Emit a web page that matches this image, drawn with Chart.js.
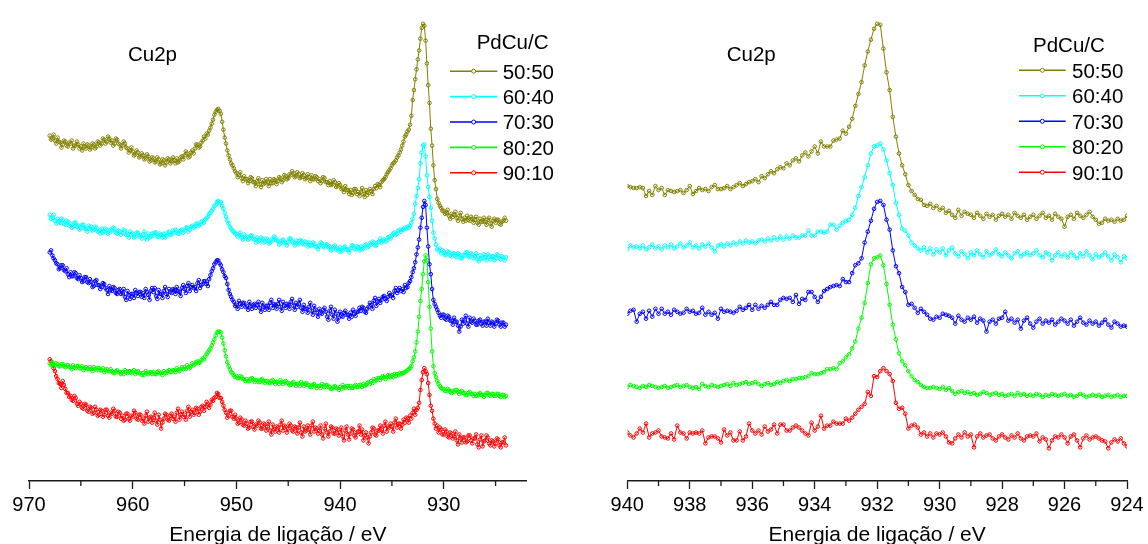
<!DOCTYPE html>
<html>
<head>
<meta charset="utf-8">
<script src="https://cdn.jsdelivr.net/npm/chart.js@4.4.0/dist/chart.umd.min.js"></script>
<style>
  html, body { margin: 0; padding: 0; background: #fff; }
  #wrap { position: relative; width: 1148px; height: 544px; overflow: hidden; }
  canvas { position: absolute; top: 0; }
  #wide { left: 0; }
  #narrow { left: 574px; }
</style>
</head>
<body>
<div id="wrap">
  <canvas id="wide" width="574" height="544"></canvas>
  <canvas id="narrow" width="574" height="544"></canvas>
</div>
<script>
// Cu 2p XPS spectra of the PdCu/C catalysts (intensity in a.u., curves stacked)
const sampleNames  = ['50:50', '60:40', '70:30', '80:20', '90:10'];
const sampleColors = ['#808000', '#00ffff', '#0000ff', '#00ff00', '#ff0000'];

// Wide window: 968 -> 924 eV, 0.125 eV sampling (8 points per eV per row)
const wideStart = 968, wideStep = -0.125;
const wideTicks = [970, 960, 950, 940, 930];
const wideMinorTicks = [965, 955, 945, 935, 925];

const wide5050 = [
  348,344,345,349,343,340,346,342, 341,336,339,343,342,338,337,341,
  340,343,335,338,338,342,339,335, 337,333,340,337,335,339,338,334,
  336,340,339,335,337,342,341,338, 340,345,344,340,342,347,345,341,
  343,338,340,345,344,340,339,335, 338,342,340,336,335,331,333,336,
  332,328,329,333,331,326,327,330, 328,324,325,329,327,322,323,326,
  325,321,322,326,324,319,320,324, 323,318,321,325,324,320,322,326,
  323,320,325,321,322,326,327,324, 328,332,330,326,327,331,333,330,
  335,339,339,336,337,341,343,347, 345,350,349,353,356,360,364,369,
  372,374,375,373,370,362,354,346, 340,333,328,324,320,318,315,312,
  310,306,308,311,305,302,307,304, 304,300,302,306,305,301,301,297,
  302,305,299,296,303,299,300,304, 301,297,304,300,300,304,303,299,
  302,306,305,301,303,308,307,304, 305,309,308,312,310,306,307,311,
  309,305,306,310,308,304,305,309, 306,302,308,304,304,307,306,302,
  304,300,302,306,305,301,301,298, 302,298,299,303,301,296,297,300,
  298,294,295,291,297,293,293,289, 293,288,290,294,294,289,291,287,
  291,295,289,286,293,288,290,294, 292,289,294,297,295,299,298,296,
  301,303,304,306,309,311,313,315, 318,320,321,323,326,328,331,334,
  338,342,347,349,352,354,359,368, 384,394,405,415,425,434,446,457,
  461,459,444,421,399,381,355,338, 318,303,294,284,280,277,275,272,
  272,269,270,273,267,264,269,266, 268,271,265,262,267,270,264,261,
  265,262,267,263,262,266,264,260, 263,266,260,258,264,261,261,265,
  261,258,263,265,259,256,262,264, 260,263,263,259,258,261,262,265,
  262
];
const wide6040 = [
  268,264,265,268,262,259,264,261, 260,264,263,259,258,262,261,257,
  259,255,256,260,260,256,257,253, 255,258,258,254,254,251,257,254,
  256,252,253,256,255,251,252,249, 254,250,251,254,253,249,250,253,
  252,255,254,250,249,252,251,248, 250,253,252,248,248,245,251,248,
  249,245,246,250,250,246,247,244, 248,251,245,243,249,245,246,249,
  247,250,250,246,246,249,248,245, 249,245,247,250,251,248,248,252,
  250,253,252,249,249,252,253,250, 252,255,255,251,253,256,257,255,
  256,259,259,257,258,261,262,260, 263,265,266,269,270,272,274,277,
  278,281,282,280,281,277,274,270, 266,262,259,256,254,252,251,249,
  249,246,247,250,245,243,248,245, 246,243,244,247,247,244,243,240,
  245,241,242,245,244,240,241,244, 243,239,240,243,242,246,245,242,
  242,238,239,242,243,240,240,237, 241,244,244,241,240,237,242,239,
  239,242,242,239,238,241,240,236, 240,237,237,240,239,236,236,233,
  237,240,239,236,235,238,238,235, 236,232,233,236,237,233,234,231,
  235,231,232,235,236,233,233,230, 234,237,237,234,233,236,235,232,
  236,233,234,237,238,235,236,239, 238,241,240,237,237,240,241,244,
  240,242,243,241,242,245,246,244, 247,249,250,248,249,252,253,251,
  253,253,255,254,256,255,257,260, 264,269,279,287,295,304,320,331,
  338,339,327,308,296,286,275,262, 250,244,238,233,232,234,229,232,
  231,227,228,231,230,227,226,229, 229,226,225,229,228,224,224,227,
  227,230,230,226,225,229,228,224, 226,229,223,221,227,224,224,228,
  225,222,228,226,223,226,226,222, 224,228,227,224,223,226,225,222,
  225
];
const wide7030 = [
  230,232,227,224,222,219,218,213, 214,217,217,212,211,214,208,205,
  210,206,206,210,209,204,203,207, 204,200,201,205,205,200,199,203,
  200,195,196,201,202,197,197,193, 195,199,198,194,192,188,196,192,
  191,195,194,189,188,192,193,188, 189,193,185,182,191,187,183,188,
  188,184,192,189,186,190,190,185, 189,184,193,190,187,182,191,194,
  190,194,186,183,192,188,188,184, 191,195,188,185,193,190,189,193,
  192,188,195,191,190,186,194,197, 193,189,196,199,191,195,197,194,
  195,191,199,202,194,197,198,201, 201,198,196,203,207,211,214,218,
  220,222,222,219,217,213,210,206, 204,198,192,188,185,182,180,176,
  177,173,181,178,175,179,179,175, 176,172,180,176,173,177,178,174,
  177,180,174,170,179,175,172,176, 176,172,179,182,174,178,177,173,
  178,182,175,171,180,176,174,178, 177,173,180,183,176,172,179,175,
  178,182,174,170,177,173,173,169, 175,179,171,167,176,172,169,165,
  173,169,168,172,174,170,165,162, 171,175,167,163,172,168,160,164,
  170,166,165,169,171,167,167,163, 169,165,172,168,166,170,170,174,
  171,175,174,170,169,173,175,179, 177,173,181,184,176,180,183,179,
  182,185,186,183,181,185,189,186, 187,184,191,194,189,192,194,191,
  193,190,197,194,195,199,201,205, 210,214,220,228,235,243,255,265,
  276,282,278,255,236,218,208,193, 182,178,175,172,169,166,164,167,
  167,163,162,166,165,161,161,157, 164,160,160,156,150,155,162,158,
  162,166,158,155,164,160,159,163, 161,157,157,161,162,158,156,160,
  160,156,163,159,156,160,159,155, 158,162,161,157,155,159,159,155,
  157
];
const wide8020 = [
  118,116,119,117,116,118,117,115, 115,117,117,115,114,116,116,114,
  114,112,116,114,113,115,115,113, 113,115,111,113,114,112,112,114,
  112,110,114,112,111,113,113,111, 111,113,109,111,112,110,110,112,
  110,108,108,110,111,109,109,107, 109,107,111,109,108,110,110,108,
  109,111,107,109,110,108,108,106, 108,106,110,108,107,109,109,107,
  109,107,107,109,110,108,108,106, 110,108,108,110,111,109,109,111,
  111,109,113,111,110,112,114,112, 114,112,116,114,113,115,118,116,
  117,119,120,118,119,121,123,122, 125,127,129,131,133,136,139,142,
  146,149,150,150,149,144,138,131, 125,119,115,112,109,108,106,104,
  105,103,103,105,104,102,102,100, 102,100,100,102,103,101,99,101,
  101,99,99,101,102,100,98,100, 100,98,98,100,101,99,97,99,
  99,97,101,99,97,99,100,98, 98,96,96,98,99,97,95,97,
  97,95,99,97,95,97,98,96, 96,94,94,96,97,95,93,95,
  95,93,97,95,94,96,96,94, 94,92,92,94,95,93,93,91,
  94,92,96,94,93,95,95,93, 95,93,93,95,96,94,94,96,
  96,94,97,95,96,98,99,97, 100,98,102,100,101,103,103,101,
  103,105,104,102,104,106,105,104, 106,104,107,105,107,106,108,107,
  108,108,109,110,111,112,113,115, 120,124,130,139,150,165,181,193,
  208,221,227,222,200,175,153,130, 115,108,104,100,97,95,93,92,
  92,90,90,92,91,89,88,90, 89,91,91,89,87,89,90,88,
  88,86,86,88,89,87,87,85, 87,85,85,87,88,86,86,84,
  86,88,88,86,85,87,87,85, 85,87,87,85,84,86,86,84,
  85
];
const wide9010 = [
  122,120,117,113,110,105,102,98, 97,93,100,96,92,88,88,84,
  85,81,80,85,83,77,75,79, 77,73,72,77,76,70,69,74,
  73,67,68,74,71,65,66,71, 70,64,66,71,71,65,63,68,
  67,72,70,64,64,69,68,62, 65,60,61,67,67,62,60,65,
  64,70,68,62,61,66,66,60, 62,57,65,69,59,63,64,58,
  63,68,60,56,66,61,52,58, 62,67,66,61,60,65,67,62,
  64,59,68,72,61,66,69,64, 66,61,70,74,64,69,71,66,
  68,73,72,66,69,74,75,70, 74,79,77,73,76,81,80,83,
  84,88,87,83,83,79,75,71, 68,63,65,70,70,64,62,66,
  62,57,58,63,61,56,55,60, 57,52,53,59,59,54,51,56,
  55,60,58,52,52,57,56,50, 54,59,50,46,56,51,49,54,
  53,48,56,60,50,55,54,48, 52,57,55,50,49,54,53,47,
  53,58,48,44,54,49,50,55, 51,46,55,59,49,53,52,47,
  50,55,46,42,52,57,48,44, 49,54,53,47,47,52,51,45,
  48,53,44,40,50,54,46,41, 47,52,51,45,43,48,49,55,
  46,51,40,45,48,43,37,44, 48,53,52,46,45,50,50,55,
  51,47,55,59,49,54,53,57, 54,49,58,62,53,57,57,52,
  56,61,58,63,62,58,65,62, 68,72,66,71,73,78,91,101,
  109,113,110,107,98,86,75,70, 62,57,52,55,48,53,51,46,
  46,51,49,44,43,48,47,42, 44,49,40,36,46,42,38,43,
  43,38,39,45,45,40,37,42, 42,46,36,33,41,45,34,39,
  40,45,43,37,35,40,39,34, 37,42,41,35,33,38,38,43,
  35
];

// Narrow window: 940 -> 924 eV, 0.1 eV sampling (10 points per eV per row)
const narrowStart = 940, narrowStep = -0.1;
const narrowTicks = [940, 938, 936, 934, 932, 930, 928, 926, 924];
const narrowMinorTicks = [939, 937, 935, 933, 931, 929, 927, 925];

const narrow5050 = [
  297,296,295,295,296,295,287,292,288,297, 293,295,288,293,292,291,292,293,290,293,
  297,289,292,295,293,294,292,296,298,294, 294,295,297,294,296,298,300,297,299,301,
  302,304,301,307,305,309,312,310,314,316, 315,320,318,323,325,322,328,331,327,332,
  337,330,342,337,337,337,343,344,345,353, 350,357,365,378,390,402,419,433,445,456,
  461,460,436,412,394,367,347,330,318,309, 298,292,288,284,283,278,277,279,275,277,
  273,275,270,272,268,265,273,267,271,269, 268,265,270,267,264,269,266,268,263,267,
  269,266,268,264,270,267,265,268,263,266, 268,264,267,270,265,267,263,269,266,264,
  256,266,268,264,270,267,265,268,271,266, 263,259,260,264,262,263,261,264,262,263,
  267
];
const narrow6040 = [
  233,237,235,236,234,237,233,235,238,234, 236,233,237,235,238,234,236,239,235,237,
  240,235,237,234,238,236,239,235,231,237, 238,236,239,237,240,238,241,239,242,240,
  241,239,242,243,241,244,242,245,243,246, 243,246,244,247,245,245,247,247,252,247,
  247,251,251,250,251,258,258,253,257,260, 262,263,268,275,287,296,306,318,330,337,
  338,340,334,323,310,298,280,268,254,252, 247,240,237,234,232,235,230,234,228,233,
  230,234,227,232,235,229,226,231,228,224, 230,227,232,228,225,231,227,229,233,228,
  226,230,227,224,229,231,226,228,230,227, 229,232,227,225,230,228,222,227,230,226,
  228,225,230,227,224,229,226,231,227,223, 228,225,227,230,226,222,228,225,220,226,
  224
];
const narrow7030 = [
  168,171,172,160,168,170,163,171,165,173, 168,173,168,170,167,172,170,168,169,173,
  170,171,168,169,174,167,170,167,169,163, 173,170,171,170,169,171,175,172,174,177,
  172,177,173,176,174,177,180,177,177,182, 184,183,184,180,187,178,183,182,190,190,
  185,180,185,191,193,195,196,197,196,203, 200,200,209,217,219,224,240,251,262,274,
  281,282,278,263,253,232,216,209,195,190, 177,178,174,169,173,170,167,163,162,165,
  164,168,167,166,164,158,166,162,160,164, 162,165,159,163,161,150,160,162,158,163,
  164,170,161,163,159,162,153,161,164,158, 154,160,163,158,161,159,162,157,160,163,
  161,158,162,156,160,164,159,157,161,158, 160,156,159,162,157,154,160,158,155,156,
  155
];
const narrow8020 = [
  94,96,95,94,93,95,94,96,95,94, 93,94,95,93,94,95,96,94,95,96,
  94,93,94,92,97,95,94,96,95,94, 95,96,97,95,98,96,97,98,99,97,
  98,99,97,95,97,98,96,97,99,98, 100,101,100,102,102,103,103,104,105,108,
  107,107,108,109,112,112,113,112,118,120, 124,127,133,140,153,164,179,199,218,224,
  225,227,217,198,177,157,142,128,120,116, 110,105,101,99,96,94,93,93,94,93,
  92,94,91,93,90,87,89,90,88,89, 87,88,86,87,89,88,86,87,88,86,
  87,85,86,87,85,88,86,87,85,86, 85,87,86,84,86,85,87,86,85,86,
  87,85,86,84,85,87,86,84,85,86, 85,86,84,85,86,84,85,86,84,85,
  85
];
const narrow9010 = [
  48,45,43,47,52,48,57,43,47,48, 50,44,43,42,47,41,55,48,47,42,
  48,47,48,47,50,37,43,44,44,42, 38,51,45,48,40,40,49,40,44,57,
  50,47,50,46,54,49,51,56,47,56, 56,50,50,53,55,53,50,47,45,58,
  50,54,65,52,55,55,59,57,57,57, 62,60,63,67,71,74,77,89,85,105,
  104,110,113,110,107,100,78,72,73,67, 52,55,56,53,46,48,44,47,43,47,
  46,48,44,38,37,42,46,43,48,44, 46,33,44,47,43,45,46,42,40,44,
  46,43,41,45,43,47,42,40,44,45, 44,47,39,43,41,32,40,44,43,46,
  43,37,44,46,40,33,42,45,41,43, 44,42,40,39,32,38,41,39,42,37,
  34
];

const FONT = "'Liberation Sans', Arial, Helvetica, sans-serif";
const AXIS_COLOR = '#1a1a1a';

function toPoints(values, start, step) {
  return values.map((v, i) => ({ x: +(start + step * i).toFixed(3), y: v }));
}

function makeDatasets(seriesList, start, step) {
  return seriesList.map((values, i) => ({
    label: sampleNames[i],
    data: toPoints(values, start, step),
    borderColor: sampleColors[i],
    borderWidth: 1,
    pointRadius: 1.8,
    pointBorderWidth: 1,
    pointBorderColor: sampleColors[i],
    pointBackgroundColor: 'rgba(255,255,255,0)',
    fill: false,
    tension: 0
  }));
}

// short downward ticks between the labelled ones
const minorTicks = {
  id: 'minorTicks',
  afterDraw(chart, args, opts) {
    const xs = chart.scales.x, ctx = chart.ctx;
    const y0 = chart.chartArea.bottom;
    ctx.save();
    ctx.strokeStyle = AXIS_COLOR;
    ctx.lineWidth = 1.3;
    (opts.values || []).forEach(v => {
      const px = xs.getPixelForValue(v);
      ctx.beginPath();
      ctx.moveTo(px, y0);
      ctx.lineTo(px, y0 + 5);
      ctx.stroke();
    });
    ctx.restore();
  }
};

// panel label and the sample legend
const panelNotes = {
  id: 'panelNotes',
  afterDraw(chart, args, o) {
    const ctx = chart.ctx;
    ctx.save();
    ctx.fillStyle = '#000';
    ctx.textAlign = 'left';
    ctx.textBaseline = 'alphabetic';
    ctx.font = `20.5px ${FONT}`;
    ctx.fillText(o.label, o.labelX, o.labelY);
    ctx.fillText('PdCu/C', o.legendTitleX, o.legendTitleY);
    chart.data.datasets.forEach((ds, i) => {
      const y = o.rowY0 + o.rowStep * i;
      ctx.strokeStyle = ds.borderColor;
      ctx.lineWidth = 1.6;
      ctx.beginPath();
      ctx.moveTo(o.lineX1, y);
      ctx.lineTo(o.lineX2, y);
      ctx.stroke();
      ctx.lineWidth = 1;
      ctx.beginPath();
      ctx.arc((o.lineX1 + o.lineX2) / 2, y, 2, 0, Math.PI * 2);
      ctx.fillStyle = '#fff';
      ctx.fill();
      ctx.stroke();
      ctx.fillStyle = '#000';
      ctx.fillText(ds.label, o.textX, y + 7.4);
    });
    ctx.restore();
  }
};

function buildChart(canvasId, datasets, xMin, xMax, majorTicks, minorValues, pad, notes) {
  return new Chart(document.getElementById(canvasId), {
    type: 'line',
    data: { datasets },
    options: {
      responsive: false,
      animation: false,
      devicePixelRatio: 1,
      layout: { padding: pad },
      plugins: {
        legend: { display: false },
        tooltip: { enabled: false },
        minorTicks: { values: minorValues },
        panelNotes: notes
      },
      scales: {
        x: {
          type: 'linear',
          reverse: true,
          min: xMin,
          max: xMax,
          afterBuildTicks: s => { s.ticks = majorTicks.map(value => ({ value })); },
          afterFit: s => { s.height = 63; },
          ticks: {
            font: { family: FONT, size: 20 },
            color: '#000',
            padding: 4.3,
            maxRotation: 0,
            autoSkip: false
          },
          grid: {
            drawOnChartArea: false,
            drawTicks: true,
            tickLength: 8,
            tickColor: AXIS_COLOR,
            tickWidth: 1.3
          },
          border: { display: true, color: AXIS_COLOR, width: 1.4 },
          title: {
            display: true,
            text: 'Energia de ligação / eV',
            color: '#000',
            font: { family: FONT, size: 21, lineHeight: 1 },
            padding: { top: 0, bottom: -1.5 }
          }
        },
        y: { display: false, min: -1, max: 480 }
      }
    },
    plugins: [minorTicks, panelNotes]
  });
}

buildChart('wide',
  makeDatasets([wide5050, wide6040, wide7030, wide8020, wide9010], wideStart, wideStep),
  922, 970, wideTicks, wideMinorTicks,
  { left: 29, right: 47.3, top: 0, bottom: 0 },
  { label: 'Cu2p', labelX: 128, labelY: 61,
    legendTitleX: 476.7, legendTitleY: 48.5,
    lineX1: 450, lineX2: 497.3, textX: 502.7, rowY0: 71.2, rowStep: 25.4 });

buildChart('narrow',
  makeDatasets([narrow5050, narrow6040, narrow7030, narrow8020, narrow9010], narrowStart, narrowStep),
  924, 940, narrowTicks, narrowMinorTicks,
  { left: 53.3, right: 19.7, top: 0, bottom: 0 },
  { label: 'Cu2p', labelX: 152.7, labelY: 61,
    legendTitleX: 459, legendTitleY: 51.7,
    lineX1: 445, lineX2: 491.7, textX: 498, rowY0: 70.3, rowStep: 25.5 });
</script>
</body>
</html>
